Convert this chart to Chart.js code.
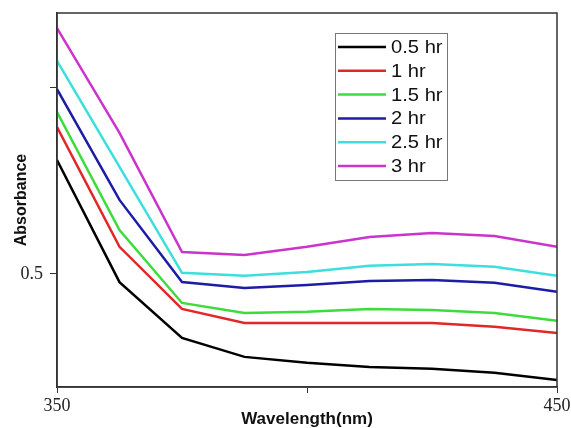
<!DOCTYPE html>
<html>
<head>
<meta charset="utf-8">
<script src="https://cdn.jsdelivr.net/npm/chart.js@4/dist/chart.umd.min.js"></script>
<style>
  html, body { margin: 0; padding: 0; background: #fff; }
  #wrap { width: 571px; height: 428px; }
</style>
</head>
<body>
<div id="wrap"><canvas id="uvChart" width="571" height="428"></canvas></div>
<script>
// wavelength (nm) sampled every 12.5 nm
const wavelengths = [350, 362.5, 375, 387.5, 400, 412.5, 425, 437.5, 450];

// absorbance for each irradiation time
const abs05 = [0.806, 0.478, 0.328, 0.277, 0.261, 0.250, 0.245, 0.234, 0.215];
const abs10 = [0.895, 0.573, 0.406, 0.368, 0.368, 0.368, 0.368, 0.358, 0.341];
const abs15 = [0.935, 0.618, 0.422, 0.395, 0.398, 0.406, 0.403, 0.395, 0.374];
const abs20 = [0.997, 0.699, 0.478, 0.462, 0.470, 0.481, 0.484, 0.476, 0.452];
const abs25 = [1.073, 0.788, 0.503, 0.495, 0.505, 0.522, 0.527, 0.519, 0.495];
const abs30 = [1.161, 0.879, 0.559, 0.551, 0.573, 0.599, 0.610, 0.602, 0.573];

const seriesLabels = ["0.5 hr", "1 hr", "1.5 hr", "2 hr", "2.5 hr", "3 hr"];
const seriesColors = ["#000000", "#e02828", "#3ddc3d", "#1c1ca6", "#3cdede", "#cc33cc"];

const xTicks = [350, 400, 450];
const xTickLabels = { 350: "350", 400: "", 450: "450" };
const yTicks = [0.5, 1.0];
const yTickLabels = { 0.5: "0.5", 1: "" };

const allSeries = [abs05, abs10, abs15, abs20, abs25, abs30];
const datasets = allSeries.map((vals, i) => ({
  label: seriesLabels[i],
  data: vals.map((v, j) => ({ x: wavelengths[j], y: v })),
  borderColor: seriesColors[i],
  backgroundColor: seriesColors[i],
  borderWidth: 2.5,
  pointRadius: 0,
  tension: 0,
  fill: false
}));

// box around the plot + legend drawn inside the plot area
const framePlugin = {
  id: "frame",
  afterDraw(chart) {
    const { ctx, chartArea: a } = chart;
    ctx.save();
    ctx.strokeStyle = "#333";
    ctx.lineWidth = 1.5;
    ctx.strokeRect(a.left, a.top, a.right - a.left, a.bottom - a.top);

    // legend
    const bx = 335, by = 33, bw = 112, bh = 147;
    ctx.fillStyle = "#fff";
    ctx.fillRect(bx, by, bw, bh);
    ctx.strokeStyle = "#777";
    ctx.lineWidth = 1;
    ctx.strokeRect(bx + 0.5, by + 0.5, bw, bh);
    ctx.font = "18px 'Liberation Sans', Arial, sans-serif";
    ctx.textBaseline = "middle";
    chart.data.datasets.forEach((ds, i) => {
      const y = 47 + i * 23.8;
      ctx.strokeStyle = ds.borderColor;
      ctx.lineWidth = 2.5;
      ctx.beginPath();
      ctx.moveTo(338, y);
      ctx.lineTo(386, y);
      ctx.stroke();
      ctx.save();
      ctx.translate(391, y + 1);
      ctx.scale(1.12, 1);
      ctx.fillStyle = "#111";
      ctx.fillText(ds.label, 0, 0);
      ctx.restore();
    });
    ctx.restore();
  }
};

new Chart(document.getElementById("uvChart"), {
  type: "line",
  data: { datasets },
  plugins: [framePlugin],
  options: {
    responsive: false,
    animation: false,
    layout: { padding: { top: 13, right: 14, left: 12, bottom: 0 } },
    plugins: { legend: { display: false }, tooltip: { enabled: false } },
    scales: {
      x: {
        type: "linear",
        min: 350,
        max: 450,
        afterBuildTicks: s => { s.ticks = xTicks.map(v => ({ value: v })); },
        afterFit: s => { s.height = 41; s.paddingLeft = 0; s.paddingRight = 0; },
        ticks: {
          maxRotation: 0,
          padding: 2,
          color: "#222",
          font: { family: "'Liberation Serif', 'Times New Roman', serif", size: 18 },
          callback: v => xTickLabels[v]
        },
        grid: { drawOnChartArea: false, drawTicks: true, tickLength: 6, color: "#333" },
        border: { color: "#333", width: 1.5 },
        title: {
          display: true,
          text: "Wavelength(nm)",
          color: "#111",
          padding: { top: 0, bottom: -2 },
          font: { family: "'Liberation Sans', Arial, sans-serif", size: 17, weight: "bold" }
        }
      },
      y: {
        min: 0.196,
        max: 1.2016,
        afterBuildTicks: s => { s.ticks = yTicks.map(v => ({ value: v })); },
        afterFit: s => { s.width = 45; s.paddingTop = 0; s.paddingBottom = 0; },
        ticks: {
          padding: 7,
          color: "#222",
          font: { family: "'Liberation Serif', 'Times New Roman', serif", size: 18 },
          callback: v => yTickLabels[v]
        },
        grid: { drawOnChartArea: false, drawTicks: true, tickLength: 7, color: "#333" },
        border: { color: "#333", width: 1.5 },
        title: {
          display: true,
          text: "Absorbance",
          color: "#111",
          padding: { top: 0, bottom: 0 },
          font: { family: "'Liberation Sans', Arial, sans-serif", size: 16, weight: "bold" }
        }
      }
    }
  }
});
</script>
</body>
</html>
